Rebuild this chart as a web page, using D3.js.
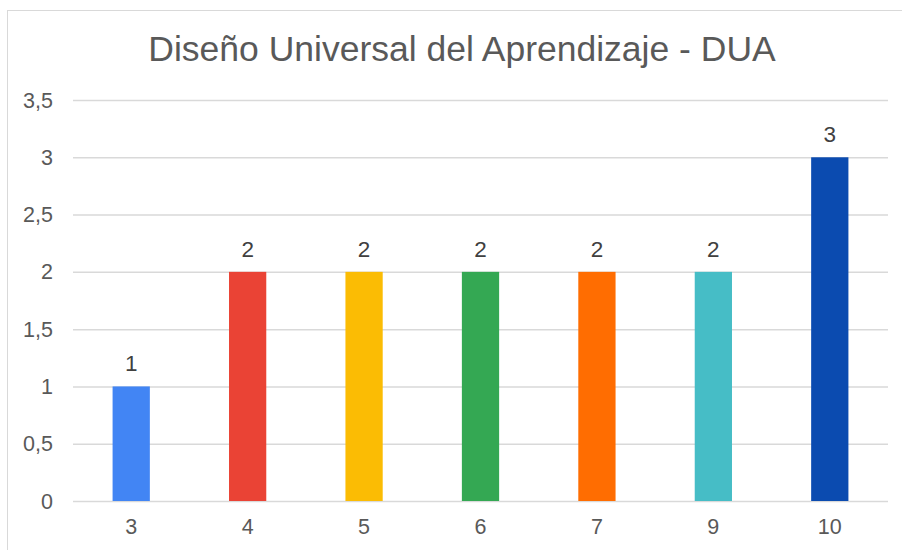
<!DOCTYPE html>
<html>
<head>
<meta charset="utf-8">
<title>DUA</title>
<script src="https://d3js.org/d3.v7.min.js"></script>
<style>
body { margin: 0; background: #fff; font-family: "Liberation Sans", Arial, sans-serif; }
.grid line { stroke: #d9d9d9; stroke-width: 1.5; }
.grid path { display: none; }
</style>
</head>
<body>
<script>
// data
var categories = ["3", "4", "5", "6", "7", "9", "10"];
var values = [1, 2, 2, 2, 2, 2, 3];
var colors = ["#4285F4", "#EA4335", "#FBBC04", "#34A853", "#FF6D01", "#46BDC6", "#0B4BB0"];
var yTicks = [0, 0.5, 1, 1.5, 2, 2.5, 3, 3.5];
var title = "Diseño Universal del Aprendizaje - DUA";

var width = 902, height = 550;
var svg = d3.select("body").append("svg")
    .attr("width", width)
    .attr("height", height);

// chart border
svg.append("rect")
    .attr("x", 7.5).attr("y", 10.5)
    .attr("width", 920).attr("height", 560)
    .attr("fill", "#fff")
    .attr("stroke", "#d9d9d9");

var plotL = 73, plotR = 888, plotT = 100, plotB = 501;

var x = d3.scaleBand().domain(categories).range([plotL, plotR]).paddingInner(0.68).paddingOuter(0.34);
var y = d3.scaleLinear().domain([0, 3.5]).range([plotB, plotT]);
var fmt = function(d) { return String(d).replace(".", ","); };

// gridlines
svg.append("g")
    .attr("class", "grid")
    .attr("transform", "translate(" + plotL + ",0)")
    .call(d3.axisLeft(y).tickValues(yTicks).tickSize(-(plotR - plotL)).tickFormat(""));

// y labels
svg.selectAll(".ylab")
    .data(yTicks)
    .enter().append("text")
    .attr("x", 53)
    .attr("y", function(d) { return y(d); })
    .attr("dy", "0.35em")
    .attr("text-anchor", "end")
    .attr("font-size", 21.5)
    .attr("fill", "#595959")
    .text(fmt);

// bars
svg.selectAll(".bar")
    .data(values)
    .enter().append("rect")
    .attr("x", function(d, i) { return x(categories[i]); })
    .attr("y", function(d) { return y(d); })
    .attr("width", x.bandwidth())
    .attr("height", function(d) { return y(0) - y(d); })
    .attr("fill", function(d, i) { return colors[i]; });

// value labels
svg.selectAll(".vlab")
    .data(values)
    .enter().append("text")
    .attr("x", function(d, i) { return x(categories[i]) + x.bandwidth() / 2; })
    .attr("y", function(d) { return y(d) - 15; })
    .attr("text-anchor", "middle")
    .attr("font-size", 22.5)
    .attr("fill", "#404040")
    .text(fmt);

// x labels
svg.selectAll(".xlab")
    .data(categories)
    .enter().append("text")
    .attr("x", function(d) { return x(d) + x.bandwidth() / 2; })
    .attr("y", 534)
    .attr("text-anchor", "middle")
    .attr("font-size", 21.5)
    .attr("fill", "#595959")
    .text(function(d) { return d; });

// title
svg.append("text")
    .attr("x", 462)
    .attr("y", 61)
    .attr("text-anchor", "middle")
    .attr("font-size", 35.5)
    .attr("fill", "#595959")
    .text(title);
</script>
</body>
</html>
